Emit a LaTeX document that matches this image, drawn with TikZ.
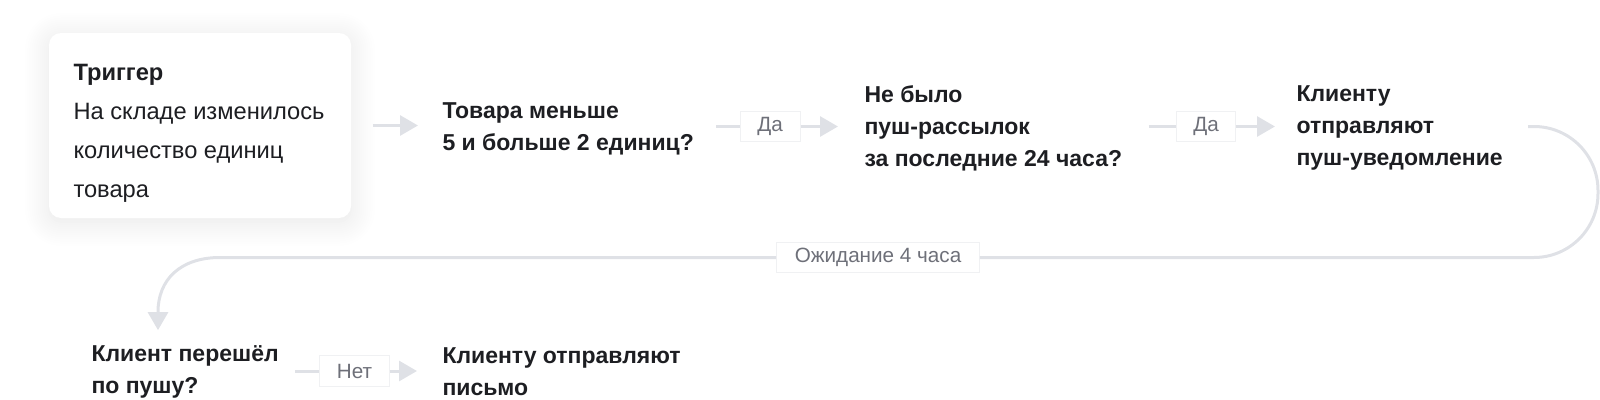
\documentclass[tikz,border=0pt]{standalone}
\usepackage{fontspec}
\setmainfont{Liberation Sans}
\usetikzlibrary{arrows.meta,shadows.blur}

\definecolor{ink}{HTML}{1D1E22}
\definecolor{wirecol}{HTML}{DFE1E6}
\definecolor{tagtext}{HTML}{6E7079}
\definecolor{tagline}{HTML}{F0F1F3}

\tikzset{every picture/.style={line width=0.75pt}}
\tikzset{
  card/.style={draw=none, fill=white, rounded corners=9pt, inner sep=0pt,
    minimum width=226.5pt, minimum height=138.75pt,
    blur shadow={shadow xshift=0pt, shadow yshift=-3pt, shadow blur radius=18pt, shadow blur steps=12, shadow opacity=10}},
  cardtext/.style={anchor=west, align=left, inner sep=0pt, text=ink, font=\fontsize{17.75}{29.25}\selectfont},
  stepnode/.style={anchor=west, align=left, inner sep=0pt, text=ink, font=\bfseries\fontsize{17.25}{24}\selectfont},
  tagnode/.style={fill=white, draw=tagline, line width=0.75pt, inner sep=0pt, minimum height=23pt, text=tagtext, font=\fontsize{15.5}{17}\selectfont},
  wire/.style={draw=wirecol, line width=2.25pt},
  wirearrow/.style={wire, -{Triangle[length=13.5pt,width=15pt]}}
}

\begin{document}
\begin{tikzpicture}[x=0.75pt,y=0.75pt,yscale=-1,xscale=1]
	\path [use as bounding box] (0,0) rectangle (1600,400);

	%Shape: Rounded Rectangle
	\node [card] (card) at (200,125.5) {};
	% Text Node
	\node [cardtext] (trigger) at (73,133) {\textbf{Триггер}\\На складе изменилось\\количество единиц\\товара};

	% Text Node
	\node [stepnode] (q1) at (442,129) {Товара меньше\\5 и больше 2 единиц?};
	% Text Node
	\node [stepnode] (q2) at (864,128) {Не было\\пуш-рассылок\\за последние 24 часа?};
	% Text Node
	\node [stepnode] (push) at (1296,128) {Клиенту\\отправляют\\пуш-уведомление};
	% Text Node
	\node [stepnode] (q3) at (91,372) {Клиент перешёл\\по пушу?};
	% Text Node
	\node [stepnode] (mail) at (442,372) {Клиенту отправляют\\письмо};

	% Labels
	\node [tagnode, minimum width=45pt] (da1) at (770,126.5) {Да};
	\node [tagnode, minimum width=44pt] (da2) at (1206,126.5) {Да};
	\node [tagnode, minimum width=152pt] (wait) at (878,257.5) {Ожидание 4 часа};
	\node [tagnode, minimum width=52pt] (net) at (354.5,371) {Нет};

	%Straight Lines
	\draw [wirearrow] ([xshift=15.75pt]card.east) -- ([xshift=-18pt]card.east -| q1.west);
	\draw [wire] ([xshift=16.5pt]q1.east |- da1.west) -- (da1.west);
	\draw [wirearrow] (da1.east) -- ([xshift=-19.5pt]q2.west |- da1.east);
	\draw [wire] ([xshift=19.5pt]q2.east |- da2.west) -- (da2.west);
	\draw [wirearrow] (da2.east) -- ([xshift=-15.75pt]push.west |- da2.east);

	%Curve Lines
	\draw [wire, rounded corners=48pt] ([xshift=18.75pt]push.east |- da2.east) -- (1598,126.5) -- (1598,257.5) -- (wait.east);
	\draw [wirearrow, shorten >=11.25pt] (wait.west) -- (220,257.5) .. controls (180,257.5) and (158,280) .. (158,312) -- ([xshift=50.25pt]q3.north west);

	%Straight Lines
	\draw [wire] ([xshift=12pt]q3.east |- net.west) -- (net.west);
	\draw [wirearrow] (net.east) -- ([xshift=-18.75pt]mail.west |- net.east);

\end{tikzpicture}
\end{document}
